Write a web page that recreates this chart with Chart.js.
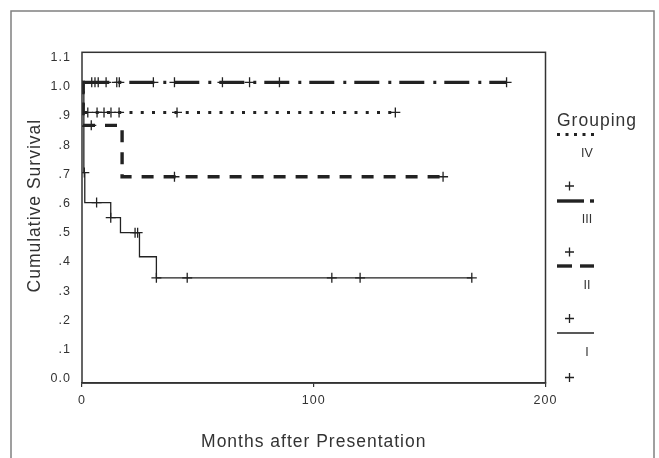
<!DOCTYPE html>
<html>
<head>
<meta charset="utf-8">
<script src="https://cdn.jsdelivr.net/npm/chart.js@4"></script>
<style>
  html, body { margin: 0; padding: 0; background: #ffffff; }
  #wrap { width: 659px; height: 458px; position: relative; }
</style>
</head>
<body>
<div id="wrap"><canvas id="c" width="659" height="458"></canvas></div>
<script>
// ---- data ----
const xTickValues = [0, 100, 200];
const xTickLabels = ['0', '100', '200'];
const yTickLabels = ['0.0', '.1', '.2', '.3', '.4', '.5', '.6', '.7', '.8', '.9', '1.0', '1.1'];

const legendTitle = 'Grouping';
const groupNames = ['IV', 'III', 'II', 'I'];

// Group I (solid)
const timesI = [0, 0.8, 1.2, 12.4, 16.6, 24.8, 32.1, 168.2];
const survI  = [1.0, 0.70, 0.60, 0.55, 0.50, 0.42, 0.35, 0.35];
const censTimesI = [1.0, 6.3, 12.4, 22.9, 24.0, 32.1, 45.4, 107.8, 120.0, 168.2];
const censSurvI  = [0.70, 0.60, 0.55, 0.50, 0.50, 0.35, 0.35, 0.35, 0.35, 0.35];

// Group II (dashed)
const timesII = [0, 0.5, 17.3, 155.8];
const survII  = [1.0, 0.857, 0.686, 0.686];
const censTimesII = [4.0, 39.9, 155.8];
const censSurvII  = [0.857, 0.686, 0.686];

// Group III (dash-dot)
const timesIII = [0, 183.2];
const survIII  = [1.0, 1.0];
const censTimesIII = [4.2, 5.6, 7.0, 10.4, 15.0, 16.1, 30.8, 39.9, 60.6, 72.3, 85.2, 183.2];
const censSurvIII  = [1.0, 1.0, 1.0, 1.0, 1.0, 1.0, 1.0, 1.0, 1.0, 1.0, 1.0, 1.0];

// Group IV (dotted)
const timesIV = [0, 0.5, 135.2];
const survIV  = [1.0, 0.90, 0.90];
const censTimesIV = [2.5, 6.5, 9.5, 12.5, 16.0, 41.0, 135.2];
const censSurvIV  = [0.90, 0.90, 0.90, 0.90, 0.90, 0.90, 0.90];

const xTitle = 'Months after Presentation';
const yTitle = 'Cumulative Survival';

// ---- build ----
const pts = (xs, ys) => xs.map((x, i) => ({ x: x, y: ys[i] }));
const INK = '#222222';
const FONT = '"Liberation Sans", Arial, sans-serif';

function lineDs(label, xs, ys, width, dash, dashOffset) {
  return {
    label: label, data: pts(xs, ys), showLine: true, stepped: true, yAxisID: 'y',
    borderColor: INK, borderWidth: width, borderDash: dash, borderDashOffset: dashOffset || 0,
    borderCapStyle: 'butt', pointRadius: 0, pointHoverRadius: 0, fill: false, tension: 0
  };
}
function censDs(label, xs, ys) {
  return {
    label: label, data: pts(xs, ys), showLine: false, yAxisID: 'y',
    pointStyle: 'cross', pointRadius: 5, pointBorderWidth: 1.3,
    pointBorderColor: INK, borderColor: INK, backgroundColor: INK, pointHoverRadius: 5
  };
}

const datasets = [
  lineDs('I', timesI, survI, 1.3, []),
  lineDs('II', timesII, survII, 3.4, [12, 10], 0),
  lineDs('III', timesIII, survIII, 3.4, [25, 9, 3, 8], 42.7),
  lineDs('IV', timesIV, survIV, 3, [3, 8.25], 1.2),
  censDs('I censored', censTimesI, censSurvI),
  censDs('II censored', censTimesII, censSurvII),
  censDs('III censored', censTimesIII, censSurvIII),
  censDs('IV censored', censTimesIV, censSurvIV)
];

const spacingPlugin = {
  id: 'spacing',
  beforeDraw(chart) { chart.ctx.letterSpacing = '1px'; }
};

const framePlugin = {
  id: 'frames',
  beforeDraw(chart) {
    const ctx = chart.ctx;
    ctx.save();
    ctx.strokeStyle = '#808080';
    ctx.lineWidth = 1.5;
    ctx.strokeRect(11, 11, 643, 470);
    ctx.restore();
  },
  afterDraw(chart) {
    const ctx = chart.ctx, a = chart.chartArea;
    ctx.save();
    ctx.strokeStyle = '#333333';
    ctx.lineWidth = 1.5;
    ctx.strokeRect(a.left, a.top, a.right - a.left, a.bottom - a.top);

    // y axis title
    ctx.fillStyle = '#333333';
    ctx.font = '17.5px ' + FONT;
    ctx.letterSpacing = '1px';
    ctx.textAlign = 'center';
    ctx.textBaseline = 'alphabetic';
    ctx.translate(39.5, (a.top + a.bottom) / 2 - 12);
    ctx.rotate(-Math.PI / 2);
    ctx.fillText(yTitle, 0, 0);
    ctx.restore();

    // legend
    ctx.save();
    ctx.fillStyle = '#333333';
    ctx.strokeStyle = INK;
    ctx.font = '17.5px ' + FONT;
    ctx.letterSpacing = '1px';
    ctx.textAlign = 'left';
    ctx.textBaseline = 'middle';
    ctx.fillText(legendTitle, 557, 121);

    const seg = (x1, x2, y, w, dash) => {
      ctx.beginPath();
      ctx.lineWidth = w;
      ctx.setLineDash(dash);
      ctx.moveTo(x1, y); ctx.lineTo(x2, y);
      ctx.stroke();
      ctx.setLineDash([]);
    };
    const cross = (x, y) => {
      ctx.beginPath();
      ctx.lineWidth = 1.3;
      ctx.moveTo(x - 4.5, y); ctx.lineTo(x + 4.5, y);
      ctx.moveTo(x, y - 4.5); ctx.lineTo(x, y + 4.5);
      ctx.stroke();
    };
    // IV
    seg(557, 594, 134.5, 3, [3, 5.5]);
    // III
    seg(557, 584, 201, 3.4, []);
    seg(590, 594, 201, 3.4, []);
    // II
    seg(557, 572, 266, 3.4, []);
    seg(580, 594, 266, 3.4, []);
    // I
    seg(557, 594, 333, 1.3, []);

    cross(569.5, 186);
    cross(569.5, 252);
    cross(569.5, 318.5);
    cross(569.5, 377.5);

    ctx.font = '12.5px ' + FONT;
    ctx.letterSpacing = '0px';
    ctx.textAlign = 'center';
    const labelY = [153.5, 219.5, 286, 352.5];
    groupNames.forEach((g, i) => ctx.fillText(g, 587, labelY[i]));
    ctx.restore();
  }
};

function yLabelFor(v) {
  const k = Math.round(v * 10);
  if (Math.abs(v * 10 - k) > 0.01) return '';
  return yTickLabels[k] !== undefined ? yTickLabels[k] : '';
}

new Chart(document.getElementById('c'), {
  type: 'scatter',
  data: { datasets: datasets },
  options: {
    responsive: false,
    animation: false,
    devicePixelRatio: 1,
    layout: { padding: { left: 12, top: 52.3, right: 113.5, bottom: 0 } },
    plugins: { legend: { display: false }, tooltip: { enabled: false }, title: { display: false } },
    scales: {
      x: {
        type: 'linear', min: 0, max: 200,
        afterFit: (s) => { s.height = 75; },
        ticks: {
          stepSize: 100, padding: 6, color: '#333333', maxRotation: 0,
          font: { family: FONT, size: 12.5 },
          callback: (v) => { const i = xTickValues.indexOf(v); return i >= 0 ? xTickLabels[i] : ''; }
        },
        grid: { display: true, drawOnChartArea: false, drawTicks: true, tickLength: 4, color: '#333333', lineWidth: 1.2 },
        border: { display: true, color: '#333333', width: 1.5 },
        title: { display: true, text: xTitle, color: '#333333', font: { family: FONT, size: 17.5 }, padding: { top: 0, bottom: 5.3 } }
      },
      y: {
        type: 'linear', position: 'left', min: 0, max: 1.1,
        afterFit: (s) => { s.width = 0; },
        ticks: { display: false, stepSize: 0.1 },
        grid: { display: false, drawTicks: false },
        border: { display: false },
        title: { display: false }
      },
      yLabels: {
        type: 'linear', position: 'left', min: -0.0144, max: 1.1177,
        afterFit: (s) => { s.width = 70; },
        ticks: {
          stepSize: 0.1, padding: 11, color: '#333333', includeBounds: false, autoSkip: false,
          font: { family: FONT, size: 12.5 },
          callback: (v) => yLabelFor(v)
        },
        grid: { display: false, drawTicks: false },
        border: { display: false },
        title: { display: false }
      }
    }
  },
  plugins: [spacingPlugin, framePlugin]
});
</script>
</body>
</html>
